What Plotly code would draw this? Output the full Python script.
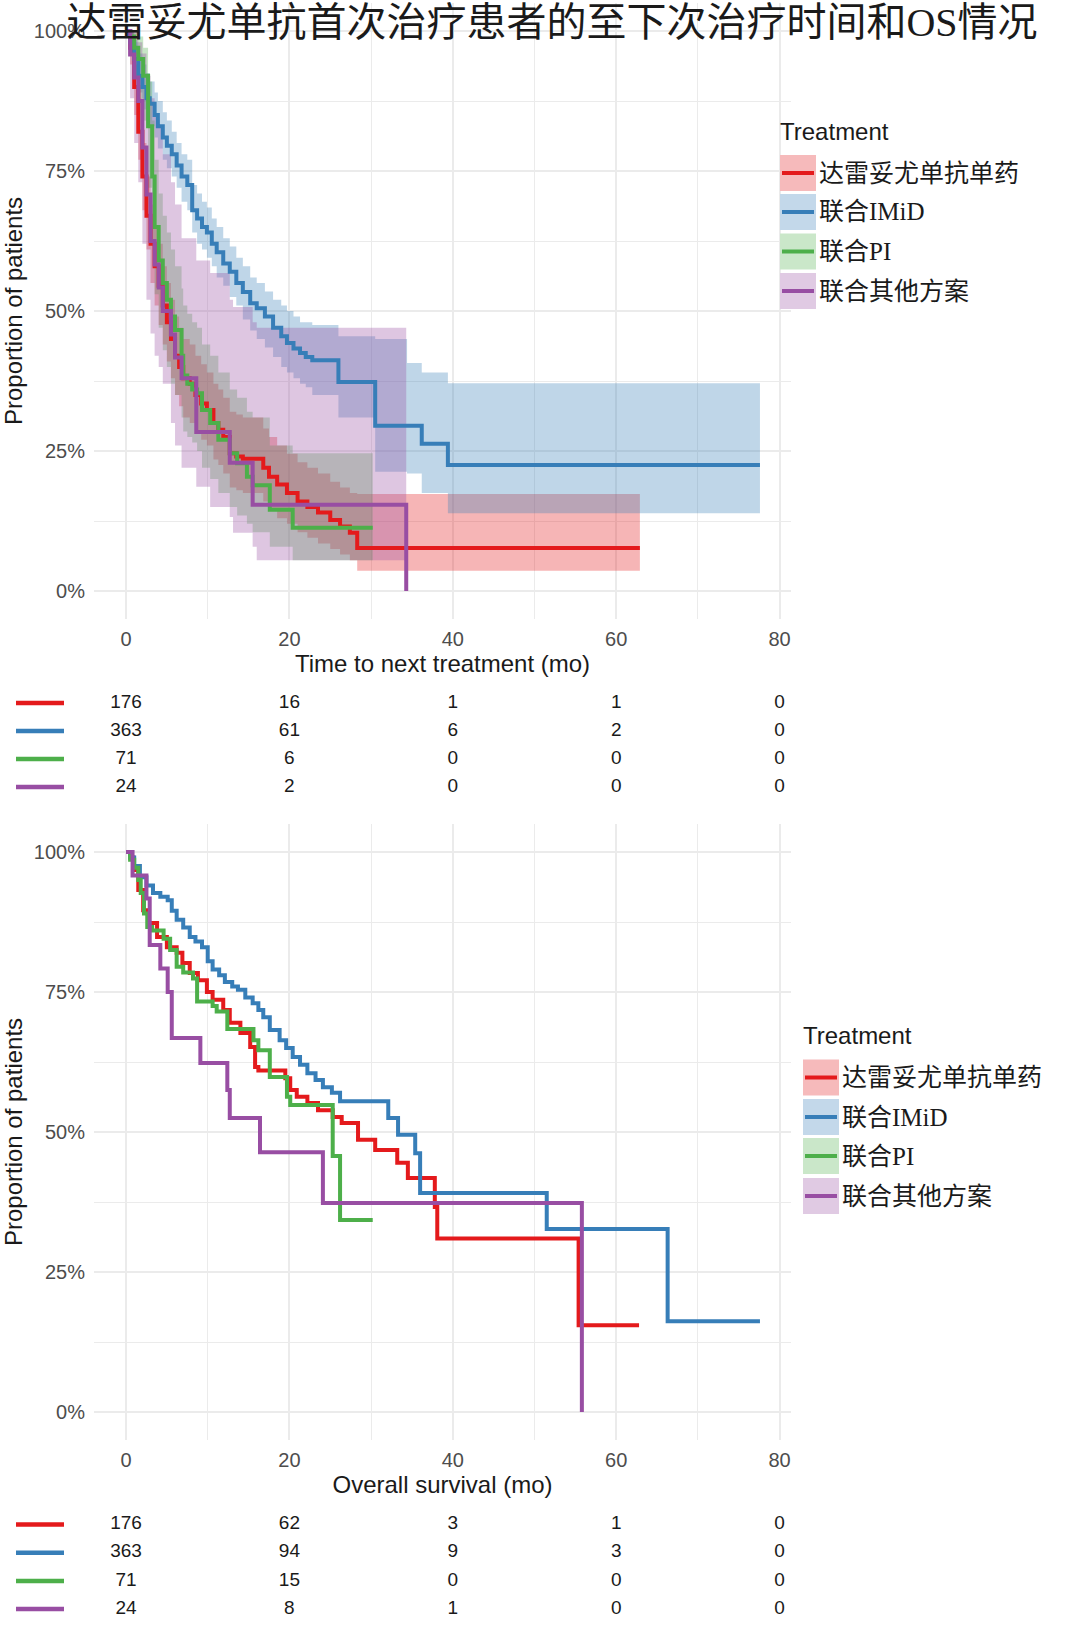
import plotly.graph_objects as go

W, H = 1080, 1636

# ---------------- data ----------------
group_names = ["达雷妥尤单抗单药", "联合IMiD", "联合PI", "联合其他方案"]
line_colors = ["#E41A1C", "#377EB8", "#4DAF4A", "#984EA3"]
ribbon_colors = ["rgba(228,26,28,0.32)", "rgba(55,126,184,0.32)",
                 "rgba(77,175,74,0.32)", "rgba(152,78,163,0.32)"]
key_fill_colors = ["#F6BABB", "#C3D8EA", "#CAE7C9", "#E0CAE3"]

x_tick_vals = [0, 20, 40, 60, 80]
y_tick_vals = [0, 25, 50, 75, 100]
y_tick_text = ["0%", "25%", "50%", "75%", "100%"]

# Time to next treatment (months, % patients) with 95% CI
red_ttnt_t = [0, 0.5, 1.0, 1.5, 2.0, 2.5, 3.0, 3.5, 4.0, 4.5, 5.0, 5.5, 6.0, 6.5, 7.0, 7.8, 8.5, 9.2, 9.9, 10.7,
              11.3, 11.9, 12.7, 13.5, 14.3, 16.8, 17.5, 18.5, 19.7, 21.0, 22.2, 23.5, 25.0, 26.2, 27.4, 28.3, 62.9]
red_ttnt_s = [100, 97, 90, 82, 74, 67, 62, 58, 54.5, 51, 48, 45, 42, 40, 38, 37, 35, 33.5, 32.3, 30,
              28.8, 27.5, 24.6, 24, 23.6, 22, 20.4, 19, 17.5, 16, 15, 14, 12.7, 11.5, 10.4, 7.7, 7.7]
red_ttnt_lo = [100, 94, 85, 77, 68, 61, 55, 51, 47.5, 44, 41, 38, 35, 33, 31, 30, 28.5, 27, 26, 23.5,
               22.5, 21, 18.5, 18, 17.5, 16, 14.5, 13, 12, 10.5, 9.5, 8.5, 7.5, 6.5, 5.5, 3.6, 3.6]
red_ttnt_hi = [100, 100, 94, 88, 80, 74, 69, 65, 62, 58, 55, 52, 49, 47, 45, 44, 42, 40.5, 39, 37,
               36, 34.5, 32, 31.5, 31, 29, 27.5, 26, 24.5, 23, 22, 21, 19.5, 18.5, 17.5, 17.3, 17.3]

blue_ttnt_t = [0, 0.5, 1.0, 1.5, 2.0, 2.5, 2.9, 3.5, 3.9, 4.5, 5.0, 5.6, 6.2, 6.8, 7.5, 8.1, 8.7, 9.3, 9.9, 10.5,
               11.1, 11.9, 12.7, 13.5, 14.3, 15.2, 16.0, 17.0, 18.0, 19.0, 19.7, 20.5, 21.3, 22.0, 22.8, 26.0,
               30.5, 34.4, 36.2, 39.4, 77.6]
blue_ttnt_s = [100, 98, 95, 92, 90, 88, 87, 85, 83, 81, 79.5, 78, 76, 74, 72.5, 68, 66.5, 65, 64, 62,
               60.5, 58.5, 57, 55, 53.4, 51.4, 50.5, 49, 47, 45.5, 44.3, 43.3, 42.5, 41.8, 41.2, 37.3,
               29.5, 29.5, 26.3, 22.5, 22.5]
blue_ttnt_lo = [100, 96, 92, 89, 86, 84, 83, 81, 79, 77, 75.5, 74, 72, 69.5, 68, 64, 62, 61, 59.5, 58,
                56, 54.5, 52.5, 51, 48.5, 46.5, 45, 43.5, 41.8, 40, 39, 38, 37, 36.4, 35, 31,
                21.3, 21, 17.5, 13.9, 13.9]
blue_ttnt_hi = [100, 100, 98, 96, 94, 92.5, 91, 89, 87.5, 85.5, 84, 82, 80, 78, 77, 72.5, 71, 69.5, 68.5, 66.5,
                65, 63, 61.5, 59.5, 58, 56, 55, 53.5, 52, 51, 50, 49, 48, 48, 47.5, 45.5,
                45, 40.7, 39, 37.1, 37.1]

green_ttnt_t = [0, 0.5, 1.0, 1.5, 2.1, 2.7, 3.2, 3.5, 4.0, 4.5, 5.0, 5.5, 6.0, 6.8, 7.0, 7.5, 8.1, 8.7, 9.3, 10.3,
                11.3, 12.7, 13.6, 14.8, 15.5, 17.6, 20.4, 30.2]
green_ttnt_s = [100, 99, 97, 95, 92, 83, 74, 65, 59, 55, 52, 49, 46.6, 42, 38.5, 37, 36, 35.3, 32.3, 30,
                27, 24.6, 22.8, 20.4, 18.9, 14.5, 11.3, 11.3]
green_ttnt_lo = [100, 96, 92, 88, 84, 72, 62, 53, 47, 43, 40, 37, 35, 31, 28.5, 27.5, 26.5, 25, 22, 20,
                 17.5, 15, 13.5, 12, 10.5, 7.9, 5.5, 5.5]
green_ttnt_hi = [100, 100, 100, 99, 97, 91, 84, 77, 71, 67, 64, 61, 58, 54, 51, 49.5, 48, 47, 44, 42,
                 39, 36, 34.5, 32, 31, 26, 24.6, 24.6]

purple_ttnt_t = [0, 0.5, 1.0, 1.5, 2.0, 2.5, 3.0, 3.5, 4.0, 4.5, 5.5, 6.0, 6.8, 8.6, 10.3, 12.7, 13.1, 15.5, 16.0, 34.3]
purple_ttnt_s = [100, 95.8, 91.7, 87.5, 79.2, 70.8, 62.5, 58.3, 54.2, 50, 45.8, 41.7, 38, 28.4, 28.4, 22.9, 22.9,
                 15.4, 15.4, 0]
purple_ttnt_lo = [100, 88, 80, 73, 62, 52, 46, 42, 40, 37, 30, 26, 22, 18.6, 15, 13.2, 10.4, 7.9, 5.5, 5.5]
purple_ttnt_hi = [100, 100, 100, 98, 96, 92, 88, 85, 83, 78, 73, 69, 63, 59, 56.8, 52, 50.7, 48, 47, 46]

# Overall survival (months, % patients)
red_os_t = [0, 0.5, 0.9, 1.5, 2.1, 2.7, 3.8, 5.0, 6.2, 6.9, 7.8, 8.8, 9.9, 10.6, 11.9, 12.7, 14.0, 15.2, 15.8, 16.2,
            19.5, 20.1, 20.9, 22.2, 23.5, 25.3, 26.4, 28.4, 30.5, 33.2, 34.5, 37.8, 38.1, 55.4, 62.8]
red_os_s = [100, 99, 96.8, 93.2, 89.6, 87.3, 84.8, 83, 82, 80.2, 78.4, 77.1, 75, 73.6, 71.8, 69.5, 67.7, 65.2, 61.6, 61,
            59.6, 57.5, 56.3, 55.2, 53.9, 52.7, 51.6, 48.6, 46.8, 44.5, 41.8, 36.6, 31, 15.5, 15.5]

blue_os_t = [0, 0.5, 1.0, 1.7, 2.5, 3.3, 4.2, 5.1, 5.6, 6.2, 7.0, 7.8, 8.5, 9.3, 10.0, 10.6, 11.4, 12.1, 13.0, 13.7,
             14.6, 15.5, 16.2, 16.8, 17.6, 18.8, 19.6, 20.4, 21.3, 22.2, 23.2, 24.1, 25.2, 26.2, 32.1, 33.3,
             35.4, 36.0, 51.5, 66.3, 77.6]
blue_os_s = [100, 99, 97.5, 95.5, 94, 92.7, 92, 91.4, 89.5, 87.9, 86.5, 84.8, 84, 83, 80.5, 79, 78, 76.8, 76, 75.4,
             74, 73, 71.8, 70.5, 68.2, 66.4, 65, 63.4, 62, 60.5, 59.3, 58, 57, 55.5, 52.5, 49.5,
             46.2, 39.1, 32.7, 16.2, 16.2]

green_os_t = [0, 0.5, 1.0, 1.5, 1.8, 2.2, 2.6, 3.2, 4.6, 5.4, 6.2, 7.0, 8.2, 8.7, 10.6, 11.1, 12.4, 15.6, 16.2, 17.6,
              19.7, 20.1, 25.3, 26.2, 30.2]
green_os_s = [100, 98.6, 97.2, 95, 92.7, 89, 86.6, 86, 84.5, 82.5, 79.5, 78.5, 77.4, 73.3, 72.5, 71.5, 68.4, 66.4, 64.6,
              59.8, 56.3, 54.8, 45.7, 34.3, 34.3]

purple_os_t = [0, 0.8, 2.5, 2.9, 4.2, 5.1, 5.6, 9.1, 12.4, 12.7, 16.4, 24.1, 55.8]
purple_os_s = [100, 95.8, 91.7, 83.4, 79.2, 75, 66.8, 62.3, 57.5, 52.5, 46.4, 37.3, 0]

# Numbers at risk
risk_times = [0, 20, 40, 60, 80]
ttnt_risk_red = [176, 16, 1, 1, 0]
ttnt_risk_blue = [363, 61, 6, 2, 0]
ttnt_risk_green = [71, 6, 0, 0, 0]
ttnt_risk_purple = [24, 2, 0, 0, 0]
os_risk_red = [176, 62, 3, 1, 0]
os_risk_blue = [363, 94, 9, 3, 0]
os_risk_green = [71, 15, 0, 0, 0]
os_risk_purple = [24, 8, 1, 0, 0]

title_text = "达雷妥尤单抗首次治疗患者的至下次治疗时间和OS情况"
ttnt_xlabel = "Time to next treatment (mo)"
os_xlabel = "Overall survival (mo)"
ylabel = "Proportion of patients"
legend_title = "Treatment"

# ---------------- layout helpers ----------------
def px_x(p):
    return p / W

def px_y(p):
    return 1 - p / H

SANS = "Liberation Sans, Arial, sans-serif"
CJK = "Liberation Serif, Noto Sans CJK SC, serif"
GRID = "#EBEBEB"
LW = 4

fig = go.Figure()

ttnt = [
    (red_ttnt_t, red_ttnt_s, red_ttnt_lo, red_ttnt_hi),
    (blue_ttnt_t, blue_ttnt_s, blue_ttnt_lo, blue_ttnt_hi),
    (green_ttnt_t, green_ttnt_s, green_ttnt_lo, green_ttnt_hi),
    (purple_ttnt_t, purple_ttnt_s, purple_ttnt_lo, purple_ttnt_hi),
]
# ribbons
for i, (t, s, lo, hi) in enumerate(ttnt):
    fig.add_trace(go.Scatter(x=t, y=lo, mode="lines", line=dict(width=0, shape="hv"),
                             xaxis="x", yaxis="y", showlegend=False, hoverinfo="skip"))
    fig.add_trace(go.Scatter(x=t, y=hi, mode="lines", line=dict(width=0, shape="hv"),
                             fill="tonexty", fillcolor=ribbon_colors[i],
                             xaxis="x", yaxis="y", showlegend=False, hoverinfo="skip"))
# lines
for i, (t, s, lo, hi) in enumerate(ttnt):
    fig.add_trace(go.Scatter(x=t, y=s, mode="lines", name=group_names[i],
                             line=dict(color=line_colors[i], width=LW, shape="hv"),
                             xaxis="x", yaxis="y", showlegend=False))

os_series = [(red_os_t, red_os_s), (blue_os_t, blue_os_s), (green_os_t, green_os_s), (purple_os_t, purple_os_s)]
for i, (t, s) in enumerate(os_series):
    fig.add_trace(go.Scatter(x=t, y=s, mode="lines", name=group_names[i],
                             line=dict(color=line_colors[i], width=LW, shape="hv"),
                             xaxis="x2", yaxis="y2", showlegend=False))

# risk tables
ttnt_risk = [ttnt_risk_red, ttnt_risk_blue, ttnt_risk_green, ttnt_risk_purple]
os_risk = [os_risk_red, os_risk_blue, os_risk_green, os_risk_purple]
for i, row in enumerate(ttnt_risk):
    fig.add_trace(go.Scatter(x=risk_times, y=[i + 1] * len(risk_times), mode="text",
                             text=[str(v) for v in row],
                             textfont=dict(family=SANS, size=19, color="#1A1A1A"),
                             xaxis="x3", yaxis="y3", showlegend=False, hoverinfo="skip"))
for i, row in enumerate(os_risk):
    fig.add_trace(go.Scatter(x=risk_times, y=[i + 1] * len(risk_times), mode="text",
                             text=[str(v) for v in row],
                             textfont=dict(family=SANS, size=19, color="#1A1A1A"),
                             xaxis="x4", yaxis="y4", showlegend=False, hoverinfo="skip"))

x_dom = [px_x(94), px_x(791)]
x_rng = [-3.92, 81.4]

def xaxis_main(title, anchor):
    return dict(domain=x_dom, range=x_rng, anchor=anchor,
                tickvals=x_tick_vals, ticks="", showline=False, zeroline=False,
                showgrid=True, gridcolor=GRID, gridwidth=1.6,
                minor=dict(tickvals=[10, 30, 50, 70], showgrid=True, gridcolor=GRID, gridwidth=1.1),
                tickfont=dict(family=SANS, size=20, color="#4D4D4D"),
                ticklabelstandoff=6,
                title=dict(text=title, font=dict(family=SANS, size=24, color="#1A1A1A"), standoff=5))

def yaxis_main(domain, anchor):
    return dict(domain=domain, range=[-5, 105], anchor=anchor,
                tickvals=y_tick_vals, ticktext=y_tick_text, ticks="", showline=False, zeroline=False,
                showgrid=True, gridcolor=GRID, gridwidth=1.6,
                minor=dict(tickvals=[12.5, 37.5, 62.5, 87.5], showgrid=True, gridcolor=GRID, gridwidth=1.1),
                tickfont=dict(family=SANS, size=20, color="#4D4D4D"),
                ticklabelstandoff=8,
                title=dict(text=ylabel, font=dict(family=SANS, size=24, color="#1A1A1A"), standoff=6))

def hidden_x(anchor):
    return dict(domain=x_dom, range=x_rng, anchor=anchor, visible=False, fixedrange=True)

def hidden_y(domain, anchor):
    return dict(domain=domain, range=[4.5, 0.5], anchor=anchor, visible=False, fixedrange=True)

fig.update_layout(
    width=W, height=H, margin=dict(l=0, r=0, t=0, b=0),
    paper_bgcolor="white", plot_bgcolor="white",
    showlegend=False,
    xaxis=xaxis_main(ttnt_xlabel, "y"),
    yaxis=yaxis_main([px_y(619), px_y(3)], "x"),
    xaxis2=xaxis_main(os_xlabel, "y2"),
    yaxis2=yaxis_main([px_y(1440), px_y(824)], "x2"),
    xaxis3=hidden_x("y3"),
    yaxis3=hidden_y([px_y(801), px_y(689)], "x3"),
    xaxis4=hidden_x("y4"),
    yaxis4=hidden_y([px_y(1623), px_y(1510.5)], "x4"),
    title=dict(text=title_text, x=px_x(552), xanchor="center", y=px_y(22), yanchor="middle",
               font=dict(family=CJK, size=40, color="#1A1A1A")),
)

shapes = []
annotations = []

# risk-table line keys
for rows_y in ([703, 731, 759, 787], [1524.5, 1552.7, 1580.9, 1609]):
    for i, yy in enumerate(rows_y):
        shapes.append(dict(type="line", xref="paper", yref="paper",
                           x0=px_x(16), x1=px_x(64), y0=px_y(yy), y1=px_y(yy),
                           line=dict(color=line_colors[i], width=4.5)))

# legends
def add_legend(x_left, title_y, centers):
    annotations.append(dict(text=legend_title, xref="paper", yref="paper", x=px_x(x_left - 2), y=px_y(title_y),
                            xanchor="left", yanchor="middle", showarrow=False,
                            font=dict(family=SANS, size=24, color="#1A1A1A")))
    for i, c in enumerate(centers):
        shapes.append(dict(type="rect", xref="paper", yref="paper", layer="above",
                           x0=px_x(x_left), x1=px_x(x_left + 36), y0=px_y(c + 18), y1=px_y(c - 18),
                           fillcolor=key_fill_colors[i], line=dict(width=0)))
        shapes.append(dict(type="line", xref="paper", yref="paper", layer="above",
                           x0=px_x(x_left + 2), x1=px_x(x_left + 34), y0=px_y(c), y1=px_y(c),
                           line=dict(color=line_colors[i], width=LW)))
        annotations.append(dict(text=group_names[i], xref="paper", yref="paper", x=px_x(x_left + 37), y=px_y(c),
                                xanchor="left", yanchor="middle", showarrow=False,
                                font=dict(family=CJK, size=25, color="#1A1A1A")))

add_legend(780, 131, [173, 212, 251.5, 291])
add_legend(803, 1035, [1077.5, 1117, 1156, 1196])

fig.update_layout(shapes=shapes, annotations=annotations)

fig.write_html("out.html")
